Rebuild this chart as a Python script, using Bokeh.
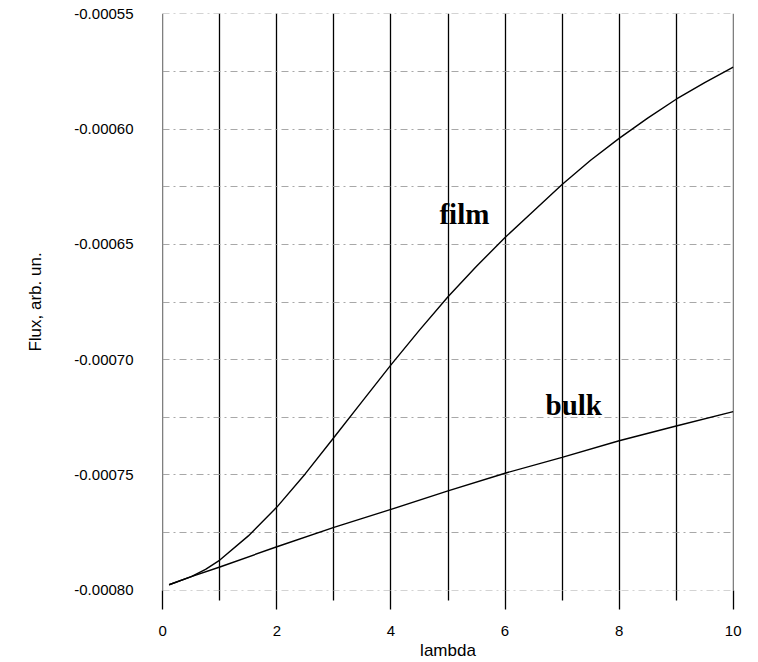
from bokeh.plotting import figure
from bokeh.models import FixedTicker, PrintfTickFormatter, Range1d
from bokeh.core.properties import value
from bokeh.embed import file_html
from bokeh.resources import INLINE

# ---- data ----
film_x = [0.11, 0.5, 0.75, 1.0, 1.5, 2.0, 2.5, 3.0, 3.5, 4.0, 4.5, 5.0, 5.5, 6.0, 6.5, 7.0, 7.5, 8.0, 8.5, 9.0, 9.5, 10.0]
film_y = [-0.0007977, -0.0007942, -0.0007910, -0.0007870, -0.0007765, -0.0007640, -0.0007495, -0.0007338,
          -0.0007180, -0.0007023, -0.0006872, -0.0006727, -0.0006595, -0.0006470, -0.0006355, -0.0006240,
          -0.0006135, -0.0006040, -0.0005952, -0.0005870, -0.0005798, -0.0005731]
bulk_x = [0.11, 0.5, 1.0, 2.0, 3.0, 4.0, 5.0, 6.0, 7.0, 8.0, 9.0, 10.0]
bulk_y = [-0.0007977, -0.0007942, -0.0007900, -0.0007812, -0.0007728, -0.0007650, -0.0007570,
          -0.0007493, -0.0007424, -0.0007352, -0.0007288, -0.0007226]

x_major = [0, 2, 4, 6, 8, 10]
x_minor = [1, 3, 5, 7, 9]
y_major = [-0.00080, -0.00075, -0.00070, -0.00065, -0.00060, -0.00055]
y_minor = [-0.000775, -0.000725, -0.000675, -0.000625, -0.000575]

labels = ["film", "bulk"]
label_x = [4.85, 6.71]
label_y = [-0.0006367, -0.0007198]

p = figure(width=750, height=662, output_backend="svg", toolbar_location=None,
           x_range=Range1d(-0.005, 10.005), y_range=Range1d(-0.0008002, -0.0005498),
           min_border_left=162, min_border_top=13, min_border_right=17, min_border_bottom=72,
           outline_line_color=None, background_fill_color="white", border_fill_color="white")

# x axis: long ticks that continue the vertical grid lines
p.xaxis.ticker = FixedTicker(ticks=x_major, minor_ticks=x_minor)
p.xaxis.axis_line_color = None
p.xaxis.major_tick_in = 0
p.xaxis.major_tick_out = 19
p.xaxis.minor_tick_in = 0
p.xaxis.minor_tick_out = 10
p.xaxis.major_tick_line_color = "black"
p.xaxis.minor_tick_line_color = "black"
p.xaxis.major_tick_line_width = 1.3
p.xaxis.minor_tick_line_width = 1.3
p.xaxis.major_label_standoff = 16
p.xaxis.axis_label = "lambda"
p.xaxis.axis_label_standoff = 2

# y axis
p.yaxis.ticker = FixedTicker(ticks=y_major, minor_ticks=y_minor)
p.yaxis.formatter = PrintfTickFormatter(format="%.5f")
p.yaxis.axis_line_color = None
p.yaxis.major_tick_out = 0
p.yaxis.major_tick_in = 0
p.yaxis.minor_tick_out = 0
p.yaxis.minor_tick_in = 0
p.yaxis.major_label_standoff = 29
p.yaxis.axis_label = "Flux, arb. un."
p.yaxis.axis_label_standoff = 26

for ax in (p.xaxis[0], p.yaxis[0]):
    ax.major_label_text_font = "Liberation Sans"
    ax.major_label_text_font_size = "15px"
    ax.major_label_text_color = "black"
    ax.axis_label_text_font = "Liberation Sans"
    ax.axis_label_text_font_size = "17px"
    ax.axis_label_text_font_style = "normal"
    ax.axis_label_text_color = "black"

# grids
p.xgrid.ticker = FixedTicker(ticks=x_major, minor_ticks=x_minor)
p.xgrid.grid_line_color = "black"
p.xgrid.grid_line_width = 1.3
p.xgrid.grid_line_alpha = 1.0
p.xgrid.minor_grid_line_color = "black"
p.xgrid.minor_grid_line_width = 1.3

p.ygrid.ticker = FixedTicker(ticks=y_major, minor_ticks=y_minor)
p.ygrid.grid_line_color = "#999999"
p.ygrid.grid_line_width = 1
p.ygrid.grid_line_dash = "7 4 2 4"
p.ygrid.grid_line_alpha = 0.85
p.ygrid.minor_grid_line_color = "#999999"
p.ygrid.minor_grid_line_width = 1
p.ygrid.minor_grid_line_dash = "7 4 2 4"
p.ygrid.minor_grid_line_alpha = 0.85

# curves
p.line(film_x, film_y, line_color="black", line_width=1.4)
p.line(bulk_x, bulk_y, line_color="black", line_width=1.4)

# in-plot labels
p.text(x=label_x, y=label_y, text=labels, text_font=value("Liberation Serif"),
       text_font_style="bold", text_font_size="29px", text_color="black",
       text_baseline="middle", text_align="left")

open("out.html", "w").write(file_html(p, INLINE))
